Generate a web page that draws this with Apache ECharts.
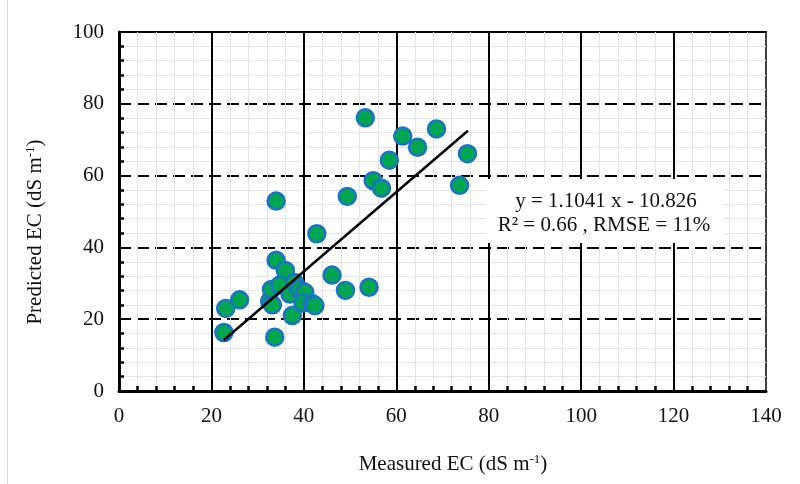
<!DOCTYPE html>
<html>
<head>
<meta charset="utf-8">
<script src="https://cdn.jsdelivr.net/npm/echarts@6/dist/echarts.min.js"></script>
<style>
  html, body { margin: 0; padding: 0; background: #fff; }
  #chart { width: 800px; height: 484px; }
</style>
</head>
<body>
<div id="chart"></div>
<script>
// measured vs predicted EC
const measured = [22.7, 23.1, 26.1, 33.7, 34.0, 34.0, 36.0, 32.6, 33.0, 33.2, 34.8, 37.0, 37.5, 38.0, 39.1, 40.2, 39.8, 41.8, 42.4, 42.8, 46.1, 49.0, 49.4, 53.3, 54.1, 55.0, 56.8, 58.5, 61.4, 64.6, 68.7, 73.7, 75.4];
const predicted = [16.3, 23.0, 25.4, 15.0, 52.9, 36.4, 33.6, 25.0, 28.3, 24.0, 29.5, 27.0, 21.0, 30.2, 28.3, 27.5, 24.5, 24.4, 23.8, 43.8, 32.3, 28.0, 54.2, 76.1, 28.9, 58.6, 56.5, 64.3, 71.0, 67.9, 73.0, 57.3, 66.1];
const trendX = [22.7, 75.5];
const trendY = [14.2, 72.5];
const equationLines = ['y = 1.1041 x - 10.826', 'R² = 0.66 , RMSE = 11%'];

const serif = "'Liberation Serif', 'Times New Roman', serif";
const chart = echarts.init(document.getElementById('chart'));

const points = measured.map((x, i) => [x, predicted[i]]);
const trend = trendX.map((x, i) => [x, trendY[i]]);

const titleRich = {
  a: { fontFamily: serif, fontSize: 21, fill: '#111', color: '#111' },
  s: { fontFamily: serif, fontSize: 13, fill: '#111', color: '#111', verticalAlign: 'top', padding: [0, 0, 9, 0] },
};

chart.setOption({
  animation: false,
  backgroundColor: '#fff',
  grid: { left: 119, right: 34, top: 32, bottom: 93 },
  xAxis: [
    {
      type: 'value',
      min: 0,
      max: 140,
      interval: 20,
      axisLine: { show: true, lineStyle: { color: '#000', width: 3 } },
      axisTick: { show: false, inside: true },
      minorTick: { show: true, splitNumber: 5, length: 5, lineStyle: { color: '#000', width: 2.5 } },
      axisLabel: { color: '#111', fontFamily: serif, fontSize: 21, margin: 15 },
      splitLine: { show: true, showMinLine: false, showMaxLine: false, lineStyle: { color: '#000', width: 2 } },
      minorSplitLine: { show: true, lineStyle: { color: '#e4e4e4', width: 1 } },
      z: 3,
    },
    {
      type: 'value',
      position: 'top',
      min: 0,
      max: 140,
      interval: 20,
      axisLine: { show: true, onZero: false, lineStyle: { color: '#000', width: 2 } },
      axisTick: { show: false },
      axisLabel: { show: false },
      splitLine: { show: false },
    },
  ],
  yAxis: [
    {
      type: 'value',
      min: 0,
      max: 100,
      interval: 20,
      axisLine: { show: true, lineStyle: { color: '#000', width: 3 } },
      axisTick: { show: false, inside: true },
      minorTick: { show: true, splitNumber: 5, length: 5, lineStyle: { color: '#000', width: 2.5 } },
      axisLabel: { color: '#111', fontFamily: serif, fontSize: 21, margin: 15 },
      splitLine: { show: true, showMinLine: false, showMaxLine: false, lineStyle: { color: '#000', width: 2, type: [12, 6] } },
      minorSplitLine: { show: true, lineStyle: { color: '#e4e4e4', width: 1 } },
      z: 3,
    },
    {
      type: 'value',
      position: 'right',
      min: 0,
      max: 100,
      interval: 20,
      axisLine: { show: true, onZero: false, lineStyle: { color: '#000', width: 1.5 } },
      axisTick: { show: false },
      axisLabel: { show: false },
      splitLine: { show: false },
    },
  ],
  series: [
    {
      name: 'samples',
      type: 'scatter',
      data: points,
      symbolSize: 17,
      itemStyle: { color: '#00A64F', borderColor: '#1C72C6', borderWidth: 2.5, opacity: 1 },
      z: 4,
    },
    {
      name: 'trend',
      type: 'line',
      data: trend,
      showSymbol: false,
      lineStyle: { color: '#000', width: 2.5 },
      z: 5,
    },
  ],
  graphic: [
    {
      type: 'line',
      shape: { x1: 7.5, y1: 0, x2: 7.5, y2: 484 },
      style: { stroke: '#d9d9d9', lineWidth: 1 },
    },
    {
      type: 'rect',
      shape: { x: 486, y: 179, width: 238, height: 64 },
      style: { fill: '#fff' },
      z: 10,
    },
    {
      type: 'text',
      x: 606,
      y: 201,
      style: { text: equationLines[0], font: `21px ${serif}`, fill: '#111', align: 'center', verticalAlign: 'middle' },
      z: 11,
    },
    {
      type: 'text',
      x: 604,
      y: 225,
      style: { text: equationLines[1], font: `21px ${serif}`, fill: '#111', align: 'center', verticalAlign: 'middle' },
      z: 11,
    },
    {
      type: 'text',
      x: 453,
      y: 464,
      style: { text: '{a|Measured EC (dS m}{s|-1}{a|)}', align: 'center', verticalAlign: 'middle', rich: titleRich },
    },
    {
      type: 'text',
      x: 35,
      y: 232,
      rotation: Math.PI / 2,
      style: { text: '{a|Predicted EC (dS m}{s|-1}{a|)}', align: 'center', verticalAlign: 'middle', rich: titleRich },
    },
  ],
});
</script>
</body>
</html>
